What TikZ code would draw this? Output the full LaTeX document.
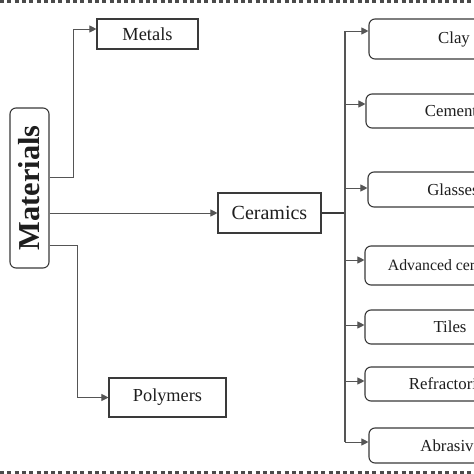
\documentclass[tikz,border=0pt]{standalone}
\usepackage{fontspec}
\setmainfont{Liberation Serif}
\usetikzlibrary{arrows.meta}
\definecolor{lnc}{HTML}{555555}
\definecolor{bxc}{HTML}{3A3A3A}
\definecolor{txc}{HTML}{1E1E1E}
\definecolor{dsc}{HTML}{4A4A4A}
\begin{document}
\begin{tikzpicture}[x=1pt,y=-1pt,
  sq/.style={draw=bxc,line width=1.1pt,text=txc,inner sep=0pt,rectangle},
  rd/.style={sq,rounded corners=6pt},
  rbox/.style={rd,minimum width=170pt,font=\fontsize{16.8}{18}\selectfont},
  conn/.style={draw=lnc,line width=0.9pt,-{Triangle[length=7pt,width=7pt]}},
  thick bus/.style={draw=bxc,line width=2pt},
  border/.style={draw=dsc,line width=3pt,dash pattern=on 4pt off 3.3pt}]
\useasboundingbox (0,0) rectangle (474,474);
\clip (0,0) rectangle (474,474);
\fill[white] (0,0) rectangle (474,474);
\draw[border] (0,1.5) -- (474,1.5);
\draw[border] (0,472.5) -- (474,472.5);
% left part
\node[rd,rotate=90,minimum width=160pt,minimum height=39pt,font=\bfseries\fontsize{30.4}{33}\selectfont] (mat) at (29.5,188) {Materials};
\node[sq,minimum width=101pt,minimum height=30pt,font=\fontsize{18.4}{20}\selectfont] (met) at (147.5,34) {Metals};
\node[sq,minimum width=103pt,minimum height=40pt,font=\fontsize{20}{22}\selectfont] (cer) at (269.5,213) {Ceramics};
\node[sq,minimum width=117pt,minimum height=39pt,font=\fontsize{18.3}{20}\selectfont] (pol) at (167.5,397.5) {Polymers};
% right part
\node[rbox,minimum height=40pt] (clay) at (454,39) {Clay};
\node[rbox,minimum height=34pt] (cem) at (451,111) {Cement};
\node[rbox,minimum height=35pt] (gla) at (453,189.5) {Glasses};
\node[rbox,minimum height=39pt,font=\fontsize{15.8}{17}\selectfont] (adv) at (450,265.5) {Advanced ceramics};
\node[rbox,minimum height=34pt] (til) at (450,327) {Tiles};
\node[rbox,minimum height=34pt] (ref) at (450,384) {Refractories};
\node[rbox,minimum height=35pt] (abr) at (454,445.5) {Abrasives};
% connectors from Materials
\coordinate (m1) at ([yshift=11pt]mat.south);
\coordinate (m3) at ([yshift=-57pt]mat.south);
\coordinate (metin) at ([yshift=5pt]met.west);
\draw[conn] (m1) -- (73,0 |- m1) -- (73,0 |- metin) -- (metin);
\draw[conn] (mat.south |- cer.west) -- (cer.west);
\draw[conn] (m3) -- (77,0 |- m3) -- (77,0 |- pol.west) -- (pol.west);
% bus
\coordinate (bus) at (345,0 |- cer.east);
\draw[thick bus] (cer.east) -- (bus);
\coordinate (clayin) at ([yshift=8pt]clay.west);
\coordinate (cemin) at ([yshift=7pt]cem.west);
\coordinate (glain) at ([yshift=1.5pt]gla.west);
\coordinate (advin) at ([yshift=5.5pt]adv.west);
\coordinate (tilin) at ([yshift=2pt]til.west);
\coordinate (refin) at ([yshift=3pt]ref.west);
\coordinate (abrin) at ([yshift=3.5pt]abr.west);
\coordinate (btop) at (bus |- clayin);
\coordinate (bbot) at (bus |- abrin);
\draw[draw=lnc,line width=1.3pt] (btop) -- (bbot);
\draw[conn] (btop) -- (clayin);
\draw[conn] (bus |- cemin) -- (cemin);
\draw[conn] (bus |- glain) -- (glain);
\draw[conn] (bus |- advin) -- (advin);
\draw[conn] (bus |- tilin) -- (tilin);
\draw[conn] (bus |- refin) -- (refin);
\draw[conn] (bbot) -- (abrin);
\end{tikzpicture}
\end{document}
